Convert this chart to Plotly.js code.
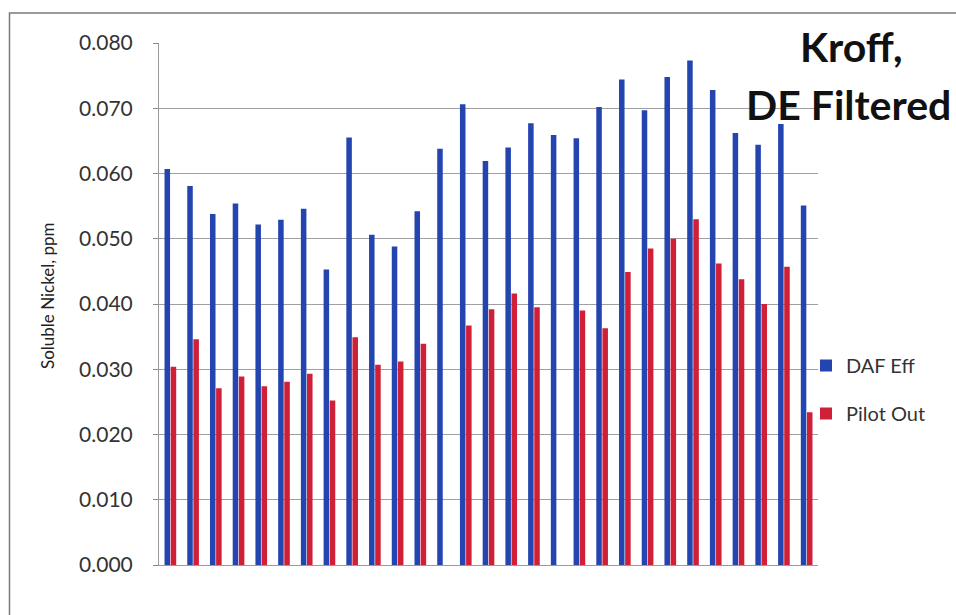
<!DOCTYPE html>
<html>
<head>
<meta charset="utf-8">
<script src="https://cdn.plot.ly/plotly-3.0.1.min.js"></script>
<style>
  html, body { margin: 0; padding: 0; background: #ffffff; }
  #chart { width: 956px; height: 615px; }
</style>
</head>
<body>
<div id="chart"></div>
<script>
// Sample sequence (29 sampling events, no axis labels shown)
const samples = [1, 2, 3, 4, 5, 6, 7, 8, 9, 10, 11, 12, 13, 14, 15,
                 16, 17, 18, 19, 20, 21, 22, 23, 24, 25, 26, 27, 28, 29];

// Soluble nickel, ppm — DAF effluent
const dafEff = [0.0607, 0.0581, 0.0538, 0.0554, 0.0522, 0.0529, 0.0546, 0.0453,
                0.0655, 0.0506, 0.0488, 0.0542, 0.0638, 0.0706, 0.0619, 0.0640,
                0.0677, 0.0659, 0.0654, 0.0702, 0.0744, 0.0697, 0.0748, 0.0773,
                0.0728, 0.0662, 0.0644, 0.0676, 0.0551];

// Soluble nickel, ppm — pilot outlet (null where no sample was taken)
const pilotOut = [0.0304, 0.0346, 0.0271, 0.0289, 0.0274, 0.0281, 0.0293, 0.0252,
                  0.0349, 0.0307, 0.0312, 0.0339, null, 0.0367, 0.0392, 0.0416,
                  0.0395, null, 0.0390, 0.0363, 0.0449, 0.0485, 0.0500, 0.0530,
                  0.0462, 0.0438, 0.0400, 0.0457, 0.0234];

const seriesNames = ['DAF Eff', 'Pilot Out'];
const yTicks = [0, 0.01, 0.02, 0.03, 0.04, 0.05, 0.06, 0.07, 0.08];
const yTickText = ['0.000', '0.010', '0.020', '0.030', '0.040', '0.050', '0.060', '0.070', '0.080'];

const FONT = 'Lato, "Open Sans", sans-serif';

const traces = [
  {
    type: 'bar', name: seriesNames[0], x: samples, y: dafEff,
    marker: { color: '#2445b0' }, legendgroup: 'a', hoverinfo: 'y'
  },
  {
    type: 'bar', name: seriesNames[1], x: samples, y: pilotOut,
    marker: { color: '#cf2038' }, legendgroup: 'b', hoverinfo: 'y'
  }
];

// plot area spans x 159..818, y 43..565 in page pixels
const L = 159, R = 956 - 818, T = 43, B = 615 - 565;
const plotW = 956 - L - R, plotH = 615 - T - B;
const px = v => (v - L) / plotW;
const py = v => (615 - B - v) / plotH;

const layout = {
  width: 956, height: 615,
  margin: { l: L, r: R, t: T, b: B, pad: 0 },
  paper_bgcolor: '#ffffff', plot_bgcolor: '#ffffff',
  font: { family: FONT, color: '#333333' },
  barmode: 'group', bargap: 0.46, bargroupgap: 0.1,
  showlegend: true,
  legend: {
    x: px(806), y: py(346), xanchor: 'left', yanchor: 'top',
    traceorder: 'grouped', tracegroupgap: 19,
    font: { family: FONT, size: 20, color: '#333333' },
    bgcolor: 'rgba(0,0,0,0)'
  },
  xaxis: {
    type: 'linear', range: [0.5, 29.5],
    showticklabels: false, ticks: '', showgrid: false, zeroline: false,
    showline: true, linecolor: '#9a9a9a', linewidth: 1, fixedrange: true
  },
  yaxis: {
    range: [0, 0.08], tickvals: yTicks, ticktext: yTickText,
    ticks: 'outside', ticklen: 5, tickcolor: '#8a8a8a',
    ticklabelstandoff: 16,
    tickfont: { family: FONT, size: 21, color: '#333333' },
    showgrid: true, gridcolor: '#a0a0a0', gridwidth: 1,
    zeroline: false, showline: true, linecolor: '#9a9a9a', linewidth: 1,
    automargin: false, fixedrange: true
  },
  annotations: [
    { text: 'Soluble Nickel, ppm', xref: 'paper', yref: 'paper', x: px(47), y: py(296),
      xanchor: 'center', yanchor: 'middle', textangle: -90, showarrow: false,
      font: { family: FONT, size: 17, color: '#222222' } },
    { text: '<b>Kroff,</b>', xref: 'paper', yref: 'paper', x: px(851), y: py(46),
      xanchor: 'center', yanchor: 'middle', showarrow: false,
      font: { family: FONT, size: 41, color: '#111111' } },
    { text: '<b>DE Filtered</b>', xref: 'paper', yref: 'paper', x: px(848), y: py(104),
      xanchor: 'center', yanchor: 'middle', showarrow: false,
      font: { family: FONT, size: 41, color: '#111111' } }
  ],
  shapes: [
    // chart frame
    { type: 'rect', xref: 'paper', yref: 'paper',
      x0: px(9.5), x1: px(990), y0: py(640), y1: py(13),
      line: { color: '#7a7a7a', width: 1.5 }, fillcolor: 'rgba(0,0,0,0)', layer: 'below' }
  ]
};

Plotly.newPlot('chart', traces, layout, { staticPlot: true, displayModeBar: false });
</script>
</body>
</html>
